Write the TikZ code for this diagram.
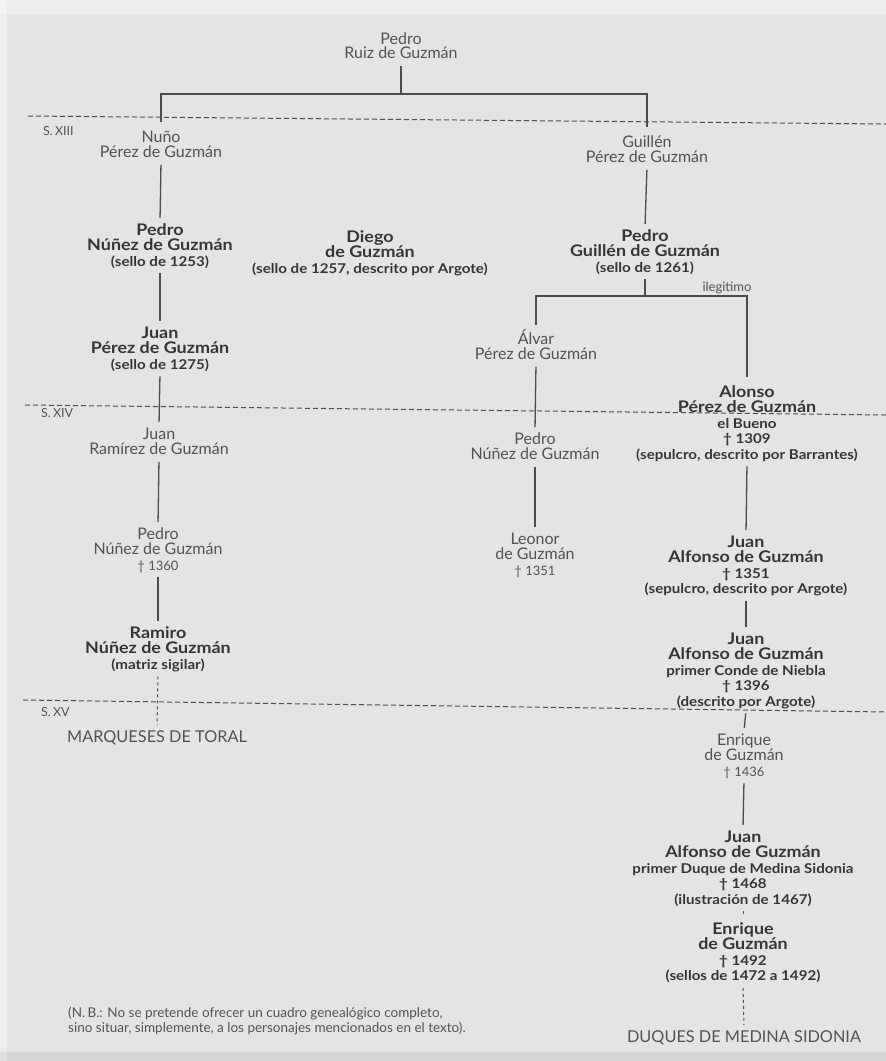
\documentclass[tikz,border=0pt]{standalone}
\usepackage{fontspec}
\setmainfont{Lato}[BoldFeatures={FakeStretch=1.12}]
\definecolor{bg}{HTML}{E4E4E6}
\definecolor{txt}{HTML}{525254}
\definecolor{txtb}{HTML}{353537}
\definecolor{lnc}{HTML}{4C4C4E}
\newcommand\T{\rule{0pt}{14pt}}
\newcommand\B{\rule[-4pt]{0pt}{4pt}}
\newcommand\fN{\fontsize{16}{15.5}\selectfont}
\newcommand\fS{\fontsize{13.5}{15.5}\bfseries\selectfont}
\newcommand\fs{\fontsize{13}{15.5}\mdseries\selectfont}
\newcommand\fL{\fontsize{12.5}{13}\selectfont}
\newcommand\fC{\fontsize{16.3}{16}\selectfont}
\newcommand\fB{\fontsize{13.5}{15}\selectfont}
\begin{document}
\begin{tikzpicture}[x=1pt,y=-1pt,
  nm/.style={align=center,inner sep=0pt,anchor=north,text=txt,font=\fN},
  bn/.style={nm,text=txtb,font=\fN\bfseries},
  lab/.style={inner sep=0pt,text=txt,font=\fL},
  caps/.style={inner sep=0pt,anchor=north,text=txt,font=\fC},
  link/.style={draw=lnc,line width=1.3pt,shorten <=3pt,shorten >=3pt},
  dlink/.style={link,line width=1pt,dash pattern=on 3pt off 3pt},
  era/.style={draw=lnc,line width=1pt,dash pattern=on 5pt off 3pt}]
\useasboundingbox (0,0) rectangle (886,1061);
\fill[bg] (0,0) rectangle (886,1061);
\fill[white,opacity=0.35] (0,0) rectangle (886,14);
\fill[white,opacity=0.35] (0,0) rectangle (7,1061);
\fill[black,opacity=0.06] (0,1052) rectangle (886,1061);

% era lines
\draw[era] (28,116) -- (886,124);
\draw[era] (25,405) -- (886,415);
\draw[era] (23,700) -- (886,712);
\node[lab,anchor=west] (s13) at (43,131) {S.\,XIII};
\node[lab,anchor=west] (s14) at (41,413) {S.\,XIV};
\node[lab,anchor=west] (s15) at (41,712) {S.\,XV};

% people
\node[nm,font=\fontsize{16}{14.5}\selectfont] (top) at (401,30) {\T Pedro\\Ruiz de Guzmán\B};
\node[nm] (nuno) at (161,128) {\T Nuño\\Pérez de Guzmán\B};
\node[nm] (guillen) at (647,133) {\T Guillén\\Pérez de Guzmán\B};
\node[bn] (pnunez) at (160,221) {\T Pedro\\Núñez de Guzmán\\{\fS (sello de 1253)}\B};
\node[bn] (diego) at (370,228) {\T Diego\\de Guzmán\\{\fS (sello de 1257, descrito por Argote)}\B};
\node[bn] (pguillen) at (645,227) {\T Pedro\\Guillén de Guzmán\\{\fS (sello de 1261)}\B};
\node[bn] (jperez) at (160,324) {\T Juan\\Pérez de Guzmán\\{\fS (sello de 1275)}\B};
\node[nm] (alvar) at (536,329) {\T Álvar\\Pérez de Guzmán\B};
\node[bn] (alonso) at (747,383) {\T Alonso\\Pérez de Guzmán\\{\fS el Bueno}\\{\fS † 1309}\\{\fS (sepulcro, descrito por Barrantes)}\B};
\node[nm] (jramirez) at (159,425) {\T Juan\\Ramírez de Guzmán\B};
\node[nm] (pnunez3) at (535,430) {\T Pedro\\Núñez de Guzmán\B};
\node[nm] (pnunez2) at (158,525) {\T Pedro\\Núñez de Guzmán\\{\fs † 1360}\B};
\node[nm] (leonor) at (535,530) {\T Leonor\\de Guzmán\\{\fs † 1351}\B};
\node[bn] (juan1) at (746,533) {\T Juan\\Alfonso de Guzmán\\{\fS † 1351}\\{\fS (sepulcro, descrito por Argote)}\B};
\node[bn] (ramiro) at (158,624) {\T Ramiro\\Núñez de Guzmán\\{\fS (matriz sigilar)}\B};
\node[bn] (juan2) at (746,630) {\T Juan\\Alfonso de Guzmán\\{\fS primer Conde de Niebla}\\{\fS † 1396}\\{\fS (descrito por Argote)}\B};
\node[caps] (marq) at (157,728) {\T MARQUESES DE TORAL};
\node[nm] (enrique1) at (744,731) {\T Enrique\\de Guzmán\\{\fs † 1436}\B};
\node[bn] (juan3) at (743,828) {\T Juan\\Alfonso de Guzmán\\{\fS primer Duque de Medina Sidonia}\\{\fS † 1468}\\{\fS (ilustración de 1467)}\B};
\node[bn] (enrique2) at (743,920) {\T Enrique\\de Guzmán\\{\fS † 1492}\\{\fS (sellos de 1472 a 1492)}\B};
\node[caps] (duques) at (744,1028) {\T DUQUES DE MEDINA SIDONIA};
\node[nm,anchor=north west,align=left,font=\fB] (nb) at (68,1003) {\T(N.\,B.: No se pretende ofrecer un cuadro genealógico completo,\\sino situar, simplemente, a los personajes mencionados en el texto).};

% connectors
\coordinate (b1) at (401,94);
\coordinate (b2) at (645,296);
\draw[link,shorten >=0pt] (top.south) -- (b1);
\draw[link,shorten <=6pt,shorten >=6pt] (nuno.north) |- (b1) -| (guillen.north);
\draw[link] (nuno.south) -- (pnunez.north);
\draw[link] (pnunez.south) -- (jperez.north);
\draw[link] (jperez.south) -- (jramirez.north);
\draw[link] (jramirez.south) -- (pnunez2.north);
\draw[link] (pnunez2.south) -- (ramiro.north);
\draw[dlink] (ramiro.south) -- (marq.north);
\draw[link] (guillen.south) -- (pguillen.north);
\draw[link,shorten >=0pt] (pguillen.south) -- (b2);
\draw[link,shorten <=4pt,shorten >=6pt] (alvar.north) |- (b2) -| (alonso.north);
\node[lab,anchor=south,font=\fontsize{13}{13}\selectfont] (ileg) at (727,294) {ilegitimo};
\draw[link] (alvar.south) -- (pnunez3.north);
\draw[link] (pnunez3.south) -- (leonor.north);
\draw[link] (alonso.south) -- (juan1.north);
\draw[link] (juan1.south) -- (juan2.north);
\draw[link] (juan2.south) -- (enrique1.north);
\draw[link] (enrique1.south) -- (juan3.north);
\draw[dlink] (juan3.south) -- (enrique2.north);
\draw[dlink] (enrique2.south) -- (duques.north);
\end{tikzpicture}
\end{document}
